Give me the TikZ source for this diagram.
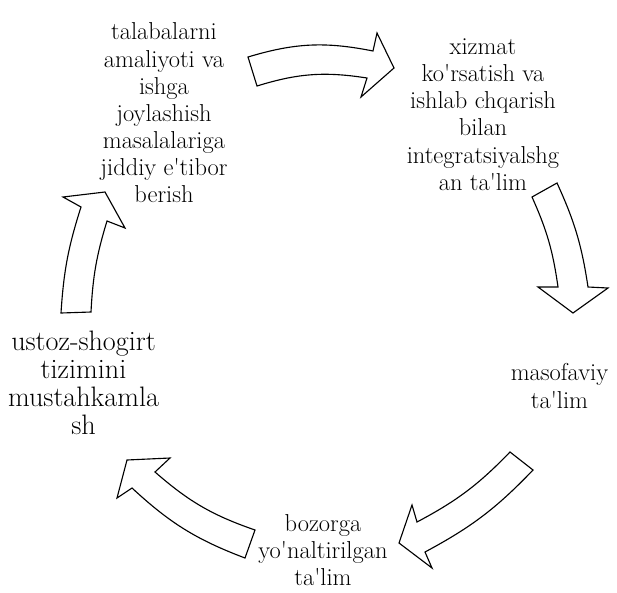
\documentclass[tikz,border=0pt]{standalone}
\newcommand{\apos}{\textquotesingle{}}

\begin{document}
\begin{tikzpicture}[x=0.025cm, y=-0.025cm,
    steplabel/.style={align=center, inner sep=0pt, font=\fontsize{17.4}{19.3}\selectfont},
    cyclearrow/.style={draw, black, line width=.8pt, line join=miter, fill=white}
        ]

    \path [use as bounding box] (0,0) rectangle (617,592);

    \node (practice) at (164,113) [steplabel]
        {talabalarni\\amaliyoti va\\ishga\\joylashish\\masalalariga\\jiddiy e\apos tibor\\berish};
    \node (integration) at (483,114.5) [steplabel]
        {xizmat\\ko\apos rsatish va\\ishlab chqarish\\bilan\\integratsiyalshg\\an ta\apos lim};
    \node (distance) at (559.5,386) [steplabel] {masofaviy\\ta\apos lim};
    \node (market) at (323,550) [steplabel] {bozorga\\yo\apos naltirilgan\\ta\apos lim};
    \node (mentoring) at (83.5,383) [steplabel, font=\fontsize{20}{20}\selectfont]
        {ustoz-shogirt\\tizimini\\mustahkamla\\sh};

    % 1 tail outer, 2 head outer corner, 3 outer barb, 4 tip,
    % 5 inner barb, 6 head inner corner, 7 tail inner

    % A top
    \coordinate (A1) at (248,57);
    \coordinate (A2) at (373,51);
    \coordinate (A3) at (377,33);
    \coordinate (A4) at (394,68);
    \coordinate (A5) at (361,97);
    \coordinate (A6) at (367,78);
    \coordinate (A7) at (257,86);

    % B right
    \coordinate (B1) at (557,183);
    \coordinate (B2) at (588,287);
    \coordinate (B3) at (608,288);
    \coordinate (B4) at (573,313);
    \coordinate (B5) at (538,287);
    \coordinate (B6) at (558,287);
    \coordinate (B7) at (532,197);

    % C bottom right
    \coordinate (C1) at (533,470);
    \coordinate (C2) at (425,552);
    \coordinate (C3) at (432,568);
    \coordinate (C4) at (399,543);
    \coordinate (C5) at (412,505);
    \coordinate (C6) at (417,522);
    \coordinate (C7) at (510,452);

    % D bottom left
    \coordinate (D1) at (245,558);
    \coordinate (D2) at (132,488);
    \coordinate (D3) at (117,498);
    \coordinate (D4) at (127,460);
    \coordinate (D5) at (170,458);
    \coordinate (D6) at (155,472);
    \coordinate (D7) at (255,530);

    % E left
    \coordinate (E1) at (61,313);
    \coordinate (E2) at (81,207);
    \coordinate (E3) at (63,197);
    \coordinate (E4) at (105,192);
    \coordinate (E5) at (125,228);
    \coordinate (E6) at (107,221);
    \coordinate (E7) at (91,312);

    \draw [cyclearrow] (A1) to [bend left=14] (A2) -- (A3) -- (A4) -- (A5) -- (A6) to [bend right=13] (A7) -- cycle;
    \draw [cyclearrow] (B1) to [bend left=8] (B2) -- (B3) -- (B4) -- (B5) -- (B6) to [bend right=8] (B7) -- cycle;
    \draw [cyclearrow] (C1) to [bend left=9] (C2) -- (C3) -- (C4) -- (C5) -- (C6) to [bend right=9] (C7) -- cycle;
    \draw [cyclearrow] (D1) to [bend left=11] (D2) -- (D3) -- (D4) -- (D5) -- (D6) to [bend right=11] (D7) -- cycle;
    \draw [cyclearrow] (E1) to [bend left=7] (E2) -- (E3) -- (E4) -- (E5) -- (E6) to [bend right=7] (E7) -- cycle;

\end{tikzpicture}
\end{document}
